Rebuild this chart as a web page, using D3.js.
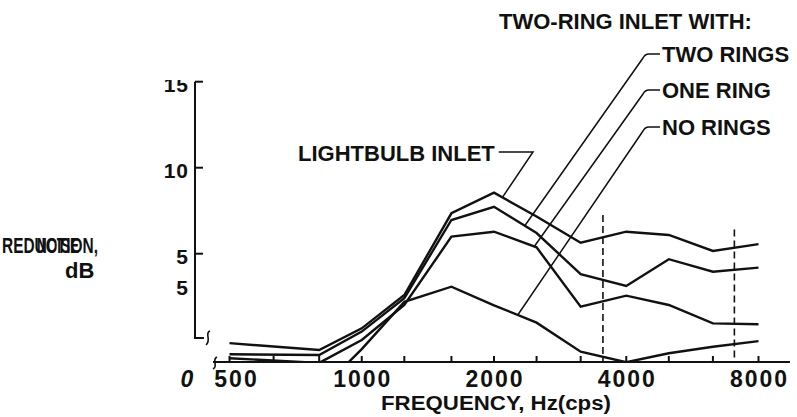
<!DOCTYPE html>
<html>
<head>
<meta charset="utf-8">
<script src="https://cdn.jsdelivr.net/npm/d3@7"></script>
<style>
  html, body { margin: 0; padding: 0; background: #fff; }
  svg { display: block; font-family: "Liberation Sans", Arial, Helvetica, sans-serif; font-weight: bold; }
</style>
</head>
<body>
<svg id="chart" width="797" height="417"></svg>
<script>
// One-third-octave band centres (Hz) at which the curves have vertices
const bandHz = [500, 800, 1000, 1250, 1600, 2000, 2500, 3150, 4000, 5000, 6300, 8000];

// Noise reduction (dB) per band; null = no reading
const lightbulbInlet = [-0.2, -0.6, 0.66, 2.6, 7.35, 8.55, 7.16, 5.64, 6.28, 6.09, 5.16, 5.56];
const twoRings       = [-0.85, -0.89, 0.47, 2.42, 6.96, 7.73, 6.2, 3.81, 3.12, 4.68, 3.95, 4.19];
const oneRing        = [-1.08, -1.35, -0.02, 2.02, 5.99, 6.28, 5.37, 1.92, 2.56, 2.02, 0.95, 0.9];
const noRings        = [null, -3.0, -0.55, 2.2, 3.08, 2.0, 0.99, -0.7, -1.31, -0.79, -0.41, -0.08];

const seriesValues = [lightbulbInlet, twoRings, oneRing, noRings];
const seriesNames  = ["LIGHTBULB INLET", "TWO RINGS", "ONE RING", "NO RINGS"];
// Frequency along each curve where its label leader touches it
const leaderHz     = [2090, 2350, 2470, 2265];

// Axis ticks and labels
const xTickHz    = [500, 630, 800, 1000, 1250, 1600, 2000, 2500, 3150, 4000, 5000, 6300, 8000];
const xLabelHz   = [500, 1000, 2000, 4000, 8000];
const yTickValues = [15, 10, 5];
const yExtraLabelValue = [3.2];   // duplicated "5" printed below the 5 dB tick

// Dashed reference frequencies and the level where each dash line starts
const markerHz  = [3540, 7050];
const markerTop = [7.25, 6.4];

const svg = d3.select("#chart");

const x = d3.scaleLog().domain([500, 8000]).range([229.5, 758.5]);
const y = d3.scaleLinear().domain([0, 15]).range([339.7, 81.7]);
const baseY = 362;       // x axis sits below the broken y axis
const axisX = 195;

const defs = svg.append("defs");
defs.append("clipPath").attr("id", "plotClip")
  .append("rect").attr("x", 0).attr("y", 0).attr("width", 797).attr("height", baseY);
defs.append("clipPath").attr("id", "topClip")
  .append("rect").attr("x", 0).attr("y", 80).attr("width", 797).attr("height", 337);

// ---- Y axis (broken at the bottom) ----
const yAxis = svg.append("g").attr("stroke", "#111").attr("fill", "none").attr("stroke-width", 2);
yAxis.append("path").attr("d", `M${axisX},${y(15)}V338H204`);
yAxis.append("path").attr("stroke-width", 1.6)
  .attr("d", "M210,331 C204,333 212,340 206,345");
yAxis.selectAll("path.tick").data(yTickValues).join("path")
  .attr("class", "tick")
  .attr("d", d => `M${axisX},${y(d)}H${axisX + 8}`);

const yLab = svg.append("g").attr("font-size", 21).attr("fill", "#111")
  .attr("text-anchor", "end").attr("letter-spacing", 1);
yLab.selectAll("text.t").data(yTickValues).join("text")
  .attr("class", "t")
  .attr("x", axisX - 6)
  .attr("y", d => y(d) + 10)
  .attr("clip-path", d => d === 15 ? "url(#topClip)" : null)
  .text(d => d);
yLab.selectAll("text.e").data(yExtraLabelValue).join("text")
  .attr("class", "e")
  .attr("x", axisX - 6)
  .attr("y", d => y(d) + 10)
  .text("5");

// Y axis title (two overprinted words) and unit
svg.append("text").attr("x", 2).attr("y", 253).attr("font-size", 22).attr("fill", "#111")
  .attr("textLength", 96).attr("lengthAdjust", "spacingAndGlyphs").text("REDUCTION,");
svg.append("text").attr("x", 37).attr("y", 253).attr("font-size", 22).attr("fill", "#111")
  .attr("textLength", 42).attr("lengthAdjust", "spacingAndGlyphs").text("NOISE");
svg.append("text").attr("x", 65).attr("y", 278).attr("font-size", 22).attr("fill", "#111").text("dB");

// ---- X axis ----
const xAxis = svg.append("g").attr("stroke", "#111").attr("fill", "none").attr("stroke-width", 2);
xAxis.append("path").attr("d", `M213,${baseY}H790`);
xAxis.append("path").attr("stroke-width", 1.6)
  .attr("d", `M217,${baseY - 5} C211,${baseY - 2} 219,${baseY + 4} 213,${baseY + 7}`);
xAxis.selectAll("path.tick").data(xTickHz).join("path")
  .attr("class", "tick")
  .attr("d", d => `M${x(d)},${baseY}V${baseY - 6}`);

svg.append("g").attr("font-size", 23).attr("fill", "#111")
  .attr("text-anchor", "middle").attr("letter-spacing", 2)
  .selectAll("text").data(xLabelHz).join("text")
  .attr("x", d => x(d) + (d === 500 ? 7 : 1))
  .attr("y", 387)
  .text(d => d);

svg.append("text").attr("x", 187).attr("y", 387).attr("font-size", 23)
  .attr("font-style", "italic").attr("text-anchor", "middle").attr("fill", "#111").text("0");

svg.append("text").attr("x", 381).attr("y", 410).attr("font-size", 20).attr("fill", "#111")
  .attr("textLength", 230).attr("lengthAdjust", "spacingAndGlyphs").text("FREQUENCY, Hz(cps)");

// ---- Dashed reference lines ----
svg.append("g").attr("stroke", "#111").attr("stroke-width", 1.6).attr("stroke-dasharray", "7,4")
  .selectAll("line").data(markerHz).join("line")
  .attr("x1", d => x(d)).attr("x2", d => x(d))
  .attr("y1", (d, i) => y(markerTop[i])).attr("y2", baseY);

// ---- Curves ----
const line = d3.line()
  .defined(d => d[1] != null)
  .x(d => x(d[0]))
  .y(d => y(d[1]));

svg.append("g").attr("clip-path", "url(#plotClip)")
  .attr("fill", "none").attr("stroke", "#111").attr("stroke-width", 2.4)
  .attr("stroke-linejoin", "miter")
  .selectAll("path").data(seriesValues).join("path")
  .attr("d", vals => line(bandHz.map((h, i) => [h, vals[i]])));

// point on a curve at a given frequency (linear in log-frequency between vertices)
function pointOn(vals, hz) {
  for (let i = 0; i < bandHz.length - 1; i++) {
    const a = bandHz[i], b = bandHz[i + 1];
    if (hz >= a && hz <= b && vals[i] != null && vals[i + 1] != null) {
      const t = (Math.log(hz) - Math.log(a)) / (Math.log(b) - Math.log(a));
      return [x(hz), y(vals[i] + t * (vals[i + 1] - vals[i]))];
    }
  }
  return [x(hz), y(0)];
}

// ---- Labels with leaders ----
const ann = svg.append("g").attr("fill", "#111").attr("font-size", 22);
const leaders = svg.append("g").attr("fill", "none").attr("stroke", "#111").attr("stroke-width", 1.5);

// Lightbulb inlet: label on the left, leader goes right then down
const lbText = ann.append("text").attr("x", 298).attr("y", 161).text(seriesNames[0]);
const lbEnd = 298 + lbText.node().getComputedTextLength();
const lbP = pointOn(seriesValues[0], leaderHz[0]);
leaders.append("path").attr("d", `M${lbEnd + 4},152H533L${lbP[0]},${lbP[1]}`);

// Two-ring inlet group heading and its three configurations
ann.append("text").attr("x", 499).attr("y", 29).text("TWO-RING INLET WITH:");
const rightLabelY = [62, 98, 135];
for (let k = 1; k <= 3; k++) {
  const by = rightLabelY[k - 1];
  ann.append("text").attr("x", 662).attr("y", by).text(seriesNames[k]);
  const ly = by - 8;
  const p = pointOn(seriesValues[k], leaderHz[k]);
  leaders.append("path")
    .attr("d", `M660,${ly}H649Q645,${ly} 643,${ly + 4}L${p[0]},${p[1]}`);
}
</script>
</body>
</html>
